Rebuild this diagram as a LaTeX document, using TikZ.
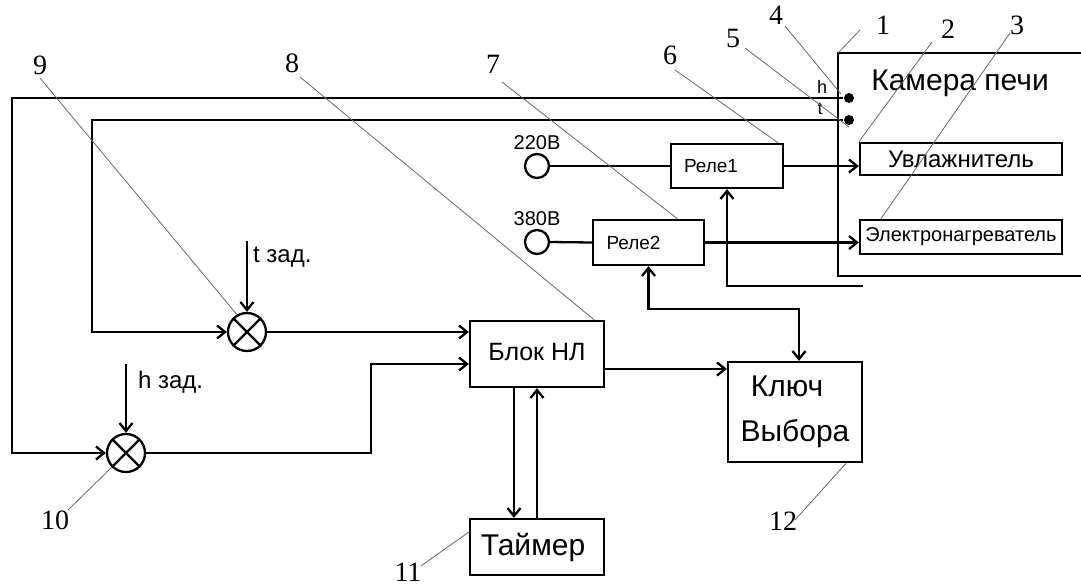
\documentclass[tikz,border=0pt]{standalone}
\usepackage{fontspec}
\setmainfont{Liberation Serif}
\newfontfamily\ar{Liberation Sans}
\usetikzlibrary{arrows.meta,calc}
\begin{document}
\begin{tikzpicture}[x=1pt,y=-1pt,
  line width=2.3pt, line join=miter,
  >={Straight Barb[length=8pt,width=13pt]},
  blk/.style={draw, rectangle, inner sep=0pt, font=\ar},
  src/.style={draw, circle, minimum size=24pt, inner sep=0pt},
  cmp/.style={draw, circle, minimum size=38pt, inner sep=0pt},
  dotn/.style={fill, circle, minimum size=10pt, inner sep=0pt},
  num/.style={font=\fontsize{28}{30}\selectfont, inner sep=0pt},
  lead/.style={line width=0.8pt, draw=black!60},
  lbl/.style={font=\ar, inner sep=0pt}]
\useasboundingbox (0,0) rectangle (1081,587);
% chamber
\coordinate (camTL) at (838,53);
\draw (1081,53) -- (camTL) -- (838,276) -- (1081,276);
\node[lbl, font=\ar\fontsize{30}{32}\selectfont] (cam) at (960,83) {Камера печи};
\node[dotn] (dotH) at (849,98) {};
\node[dotn] (dotT) at (849,120) {};
\node[lbl, font=\ar\fontsize{18}{19}\selectfont] (hl) at (822,87) {h};
\node[lbl, font=\ar\fontsize{18}{19}\selectfont] (tl) at (820,109) {t};
\node[blk, minimum width=202pt, minimum height=32pt, font=\ar\fontsize{24}{26}\selectfont] (uv) at (961,159) {Увлажнитель};
\node[blk, minimum width=202pt, minimum height=34pt, font=\ar\fontsize{20}{22}\selectfont] (el) at (961,237) {Электронагреватель};
% relays
\node[blk, minimum width=112pt, minimum height=44pt, font=\ar\fontsize{19}{21}\selectfont] (r1) at (727,166) {\hspace*{-32pt}Реле1};
\node[blk, minimum width=111pt, minimum height=45pt, font=\ar\fontsize{19}{21}\selectfont] (r2) at (648.5,242.5) {\hspace*{-30pt}Реле2};
\node[src] (c220) at (537,166) {};
\node[src] (c380) at (537,242) {};
\node[lbl, font=\ar\fontsize{20}{22}\selectfont] (l220) at (537,143) {220В};
\node[lbl, font=\ar\fontsize{20}{22}\selectfont] (l380) at (537,219) {380В};
% main blocks
\node[blk, minimum width=134pt, minimum height=66pt, font=\ar\fontsize{25}{27}\selectfont] (blok) at (537,354) {\raisebox{5pt}{Блок НЛ}};
\node[blk, minimum width=134pt, minimum height=56pt, font=\ar\fontsize{30}{32}\selectfont] (tm) at (537,547) {\hspace*{-8pt}Таймер};
\node[blk, minimum width=134pt, minimum height=100pt, align=center, font=\ar\fontsize{30}{45}\selectfont] (kl) at (795,412) {\hspace*{-16pt}Ключ\\Выбора};
% comparators
\node[cmp] (cmpT) at (247,332) {};
\node[cmp] (cmpH) at (126,453) {};
\foreach \c in {cmpT,cmpH}{
  \draw (\c.north west) -- (\c.south east);
  \draw (\c.north east) -- (\c.south west);
}
\coordinate (tz) at (247,241);
\coordinate (hz) at (126,364);
\node[lbl, font=\ar\fontsize{24}{26}\selectfont, anchor=west] (tzl) at (252,257) {t зад.};
\node[lbl, font=\ar\fontsize{24}{26}\selectfont, anchor=west] (hzl) at (137,382) {h зад.};
% connectors
\coordinate (hL) at (12,98);
\coordinate (tL) at (92,120);
\draw[->] (dotH) -- (hL) |- (cmpH.west);
\draw[->] (dotT) -- (tL) |- (cmpT.west);
\draw[->] (tz) -- (cmpT.north);
\draw[->] (hz) -- (cmpH.north);
\draw[->] (cmpT.east) -- (cmpT.east -| blok.west);
\coordinate (hb) at (371,364);
\draw[->] (cmpH.east) -| (hb) -- (hb -| blok.west);
\draw[->] ([yshift=-15pt]blok.east) -- ([yshift=-15pt]blok.east -| kl.west);
\draw[->] ([xshift=-23pt]blok.south) -- ([xshift=-23pt]tm.north);
\draw[->] (tm.north) -- (blok.south);
\draw[<->] (r2.south) -- ++(0,43) -| ([xshift=4pt]kl.north);
\coordinate (r1e) at (863,286);
\draw[->] (r1e) -| (r1.south);
\draw (c220.east) -- (r1.west);
\draw (c380.east) -- (r2.west);
\draw[->] (r1.east) -- (r1.east -| uv.west);
\draw[->] (r2.east) -- (r2.east -| el.west);
% numbers and leaders
\node[num] (n1) at (883,25) {1};
\node[num] (n2) at (948,29) {2};
\node[num] (n3) at (1017,25) {3};
\node[num] (n4) at (776,15) {4};
\node[num] (n5) at (733,38) {5};
\node[num] (n6) at (670,55) {6};
\node[num] (n7) at (493,64) {7};
\node[num] (n8) at (292,63) {8};
\node[num] (n9) at (40,65) {9};
\node[num] (n10) at (55,520) {10};
\node[num] (n11) at (408,572) {11};
\node[num] (n12) at (783,521) {12};
\draw[lead] (860,30) -- (camTL);
\draw[lead] (932,42) -- (uv.north west);
\draw[lead] (1010,33) -- ([xshift=22pt]el.north west);
\draw[lead] (785,26) -- ([shift={(-8pt,4pt)}]dotH.center);
\draw[lead] (745,48) -- ([yshift=-7pt]dotT.center);
\draw[lead] (675,70) -- ([xshift=-6pt]r1.north east);
\draw[lead] (502,82) -- ([xshift=29pt]r2.north);
\draw[lead] (300,77) -- ([xshift=-11pt]blok.north east);
\draw[lead] (40,78) -- (cmpT.120);
\draw[lead] (68,510) -- (cmpH.225);
\draw[lead] (421,566) -- ([yshift=15pt]tm.west);
\draw[lead] (795,520) -- ([xshift=-17pt]kl.south east);
\end{tikzpicture}
\end{document}
